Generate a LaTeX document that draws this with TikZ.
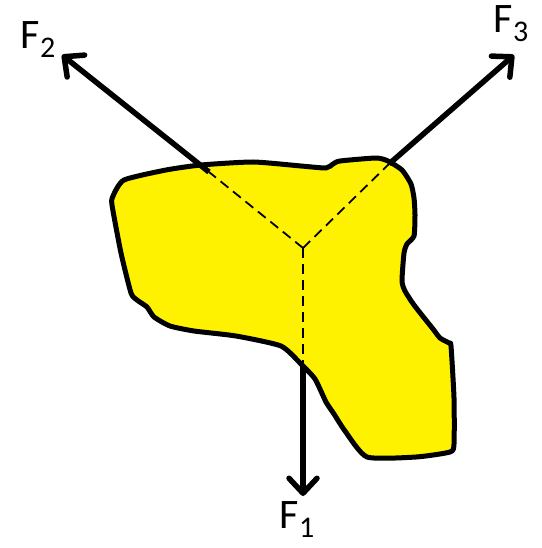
\documentclass[tikz,border=0pt]{standalone}
\usepackage{fontspec}
\setmainfont{Carlito}
\usepackage{tikz}
\usetikzlibrary{arrows.meta}

\newcommand{\forcelabel}[1]{F{\fontsize{30}{30}\selectfont\raisebox{-9pt}{#1}}}

\begin{document}
\begin{tikzpicture}[
    x=1pt, y=-1pt,
    blob/.style={draw, fill=yellow, line width=5pt, line join=round},
    force/.style={-{Straight Barb[length=15pt, width=28pt, line cap=round, line join=round]}, line width=5.5pt},
    guide/.style={dashed, line width=1.8pt, dash pattern=on 10pt off 6pt},
    flabel/.style={font=\fontsize{42}{42}\selectfont, inner sep=0pt}
]
\useasboundingbox (0,0) rectangle (541,548);

% the body
\draw[blob] plot[smooth cycle, tension=0.35] coordinates {
    (124,180) (113,196) (112,205) (121,253) (131,293) (137,300) (147,307)
    (154,317) (170,326) (194,331) (236,336) (281,346) (301,364) (315,379)
    (326,402) (334,414) (345,431) (367,457) (416,457) (450,452) (454,444)
    (454,398) (451,346) (449,343) (440,338) (433,329) (414,305) (405,291)
    (402,281) (404,253) (407,244) (414,236) (415,215) (414,198) (411,184)
    (402,170) (388,161) (376,158) (340,161) (333,164) (326,168) (301,166)
    (253,162) (201,165) (166,170)};

% point of application and lines of action
\coordinate (O) at (303,248);
\coordinate (B1) at (303,365);
\coordinate (B2) at (209,172);
\coordinate (B3) at (389,164);
\coordinate (T1) at (303,496);
\coordinate (T2) at (62,55);
\coordinate (T3) at (514,55);

\draw[guide] (O) -- (B1);
\draw[guide] (O) -- (B2);
\draw[guide] (O) -- (B3);

\draw[force] (B1) -- (T1);
\draw[force] (B2) -- (T2);
\draw[force] (B3) -- (T3);

\node[flabel] (F1) at (297,520) {\forcelabel{1}};
\node[flabel] (F2) at (38,40) {\forcelabel{2}};
\node[flabel] (F3) at (511,24) {\forcelabel{3}};
\end{tikzpicture}
\end{document}
